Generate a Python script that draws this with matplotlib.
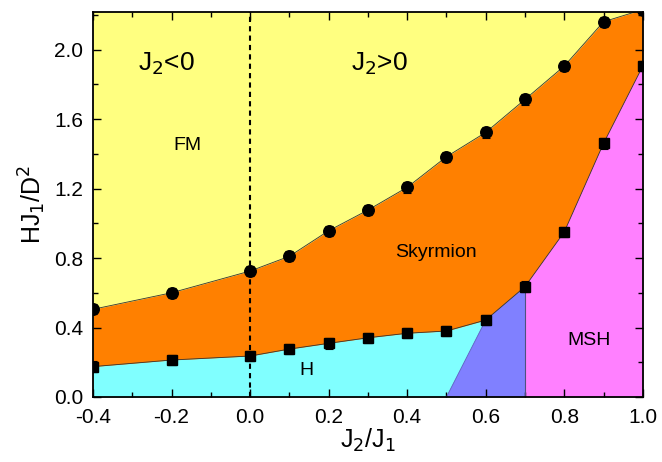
import matplotlib
matplotlib.use("Agg")
import matplotlib.pyplot as plt
from matplotlib.ticker import MultipleLocator

plt.rcParams['font.family'] = ['Liberation Sans', 'DejaVu Sans']

# Upper boundary (FM / Skyrmion), circles
x_up = [-0.4, -0.2, 0.0, 0.1, 0.2, 0.3, 0.4, 0.5, 0.6, 0.7, 0.8, 0.9, 1.0]
y_up = [0.505, 0.60, 0.725, 0.81, 0.957, 1.076, 1.207, 1.383, 1.523, 1.713, 1.905, 2.16, 2.23]
# Lower boundary (Skyrmion / H, MSH), squares
x_lo = [-0.4, -0.2, 0.0, 0.1, 0.2, 0.3, 0.4, 0.5, 0.6, 0.7, 0.8, 0.9, 1.0]
y_lo = [0.175, 0.213, 0.236, 0.276, 0.309, 0.341, 0.367, 0.38, 0.443, 0.635, 0.95, 1.46, 1.905]
err_up = 0.03
err_lo = 0.03
# H / intermediate boundary and intermediate / MSH boundary
x_h_edge = [0.5, 0.6]
y_h_edge = [0.0, 0.443]
x_msh_edge = [0.7, 0.7]
y_msh_edge = [0.0, 0.635]

c_fm = '#FFFF80'
c_sk = '#FF8000'
c_h = '#80FFFF'
c_mid = '#8080FF'
c_msh = '#FF80FF'

fig = plt.figure(figsize=(6.62, 4.62), dpi=100)
ax = fig.add_axes([0.1405, 0.1407, 0.8305, 0.8333])
ax.set_xlim(-0.4, 1.0)
ax.set_ylim(0, 2.216)
ax.set_facecolor(c_fm)

ax.fill_between(x_up, 0, y_up, color=c_sk, lw=0)
ax.fill_between(x_lo, 0, y_lo, color=c_h, lw=0)

# intermediate region polygon
i7 = x_lo.index(0.7)
mid_x = [x_h_edge[0], x_h_edge[1], x_msh_edge[1], x_msh_edge[0]]
mid_y = [y_h_edge[0], y_h_edge[1], y_msh_edge[1], y_msh_edge[0]]
ax.fill(mid_x, mid_y, color=c_mid, lw=0)
# MSH polygon
msh_x = [x_msh_edge[0]] + x_lo[i7:] + [x_lo[-1]]
msh_y = [0.0] + y_lo[i7:] + [0.0]
ax.fill(msh_x, msh_y, color=c_msh, lw=0)

lc = '#333333'
ax.plot(x_up, y_up, color=lc, lw=0.6)
ax.plot(x_lo, y_lo, color=lc, lw=0.6)
ax.plot(x_h_edge, y_h_edge, color='#6060c0', lw=0.6)
ax.plot(x_msh_edge, y_msh_edge, color='#505080', lw=0.8)

ax.errorbar(x_up, y_up, yerr=err_up, fmt='o', color='black', ms=8.3,
            capsize=3, elinewidth=0.8, capthick=0.8, zorder=5)
ax.errorbar(x_lo, y_lo, yerr=err_lo, fmt='s', color='black', ms=7,
            capsize=3, elinewidth=0.8, capthick=0.8, zorder=5)

ax.axvline(0.0, color='black', ls=(0, (2.5, 2)), lw=1.5, zorder=4)

ax.text(-0.212, 1.92, r'J$_2$<0', fontsize=19, ha='center', va='center')
ax.text(0.33, 1.92, r'J$_2$>0', fontsize=19, ha='center', va='center')
ax.text(-0.16, 1.45, 'FM', fontsize=14, ha='center', va='center')
ax.text(0.473, 0.83, 'Skyrmion', fontsize=14, ha='center', va='center')
ax.text(0.144, 0.155, 'H', fontsize=14, ha='center', va='center')
ax.text(0.863, 0.328, 'MSH', fontsize=14, ha='center', va='center')

ax.xaxis.set_major_locator(MultipleLocator(0.2))
ax.xaxis.set_minor_locator(MultipleLocator(0.1))
ax.yaxis.set_major_locator(MultipleLocator(0.4))
ax.yaxis.set_minor_locator(MultipleLocator(0.2))
ax.tick_params(which='both', direction='in', top=True, right=True, width=1.0)
ax.tick_params(which='major', length=6, labelsize=15)
ax.tick_params(which='minor', length=3.5)
ax.tick_params(axis='x', which='major', pad=8)
ax.tick_params(axis='y', which='major', pad=7)
ax.set_xticks([-0.4, -0.2, 0.0, 0.2, 0.4, 0.6, 0.8, 1.0])
ax.set_xticklabels(['-0.4', '-0.2', '0.0', '0.2', '0.4', '0.6', '0.8', '1.0'])
ax.set_yticks([0.0, 0.4, 0.8, 1.2, 1.6, 2.0])
ax.set_yticklabels(['0.0', '0.4', '0.8', '1.2', '1.6', '2.0'])
for s in ax.spines.values():
    s.set_linewidth(1.3)

ax.set_xlabel(r'J$_2$/J$_1$', fontsize=18, labelpad=0)
ax.set_ylabel(r'HJ$_1$/D$^2$', fontsize=18, labelpad=4)

fig.savefig('out.png', dpi=100)
